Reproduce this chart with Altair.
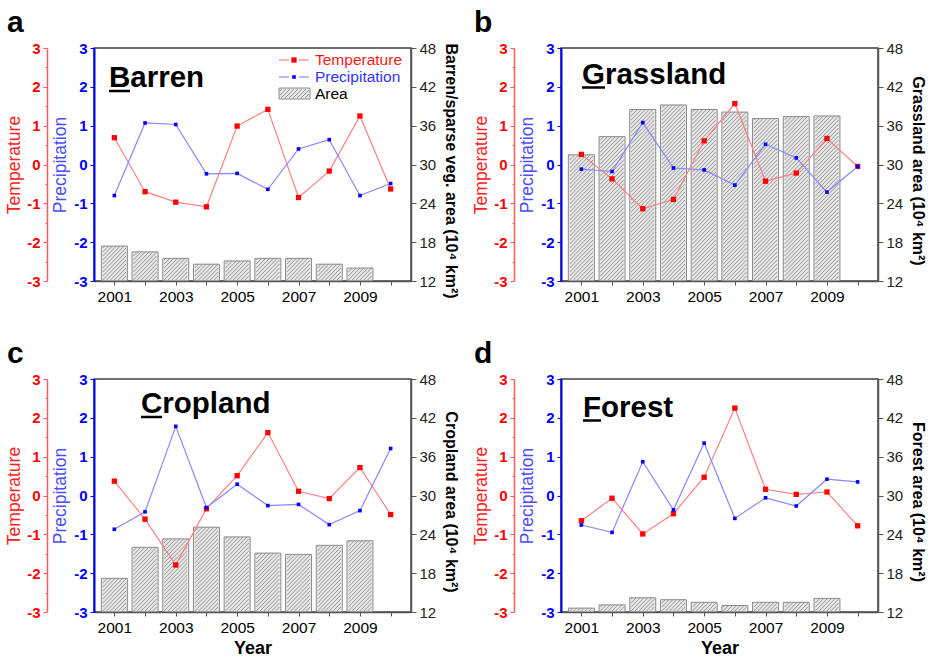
import altair as alt
import pandas as pd

# ---------------- data ----------------
years = [2001, 2002, 2003, 2004, 2005, 2006, 2007, 2008, 2009, 2010]
area_years = [2001, 2002, 2003, 2004, 2005, 2006, 2007, 2008, 2009]

temp_barren = [0.69, -0.70, -0.97, -1.09, 0.99, 1.42, -0.85, -0.17, 1.25, -0.63]
prec_barren = [-0.80, 1.07, 1.03, -0.24, -0.23, -0.64, 0.40, 0.64, -0.80, -0.49]
area_barren = [17.4, 16.5, 15.5, 14.6, 15.1, 15.5, 15.5, 14.6, 14.0]

temp_grass = [0.26, -0.37, -1.14, -0.90, 0.61, 1.57, -0.43, -0.22, 0.67, -0.05]
prec_grass = [-0.12, -0.18, 1.08, -0.09, -0.14, -0.53, 0.52, 0.17, -0.71, -0.05]
area_grass = [31.5, 34.3, 38.5, 39.2, 38.5, 38.1, 37.1, 37.4, 37.5]

temp_crop = [0.37, -0.61, -1.79, -0.34, 0.51, 1.62, 0.11, -0.08, 0.72, -0.49]
prec_crop = [-0.87, -0.42, 1.78, -0.31, 0.29, -0.26, -0.23, -0.75, -0.39, 1.21]
area_crop = [17.2, 22.0, 23.3, 25.1, 23.6, 21.1, 20.9, 22.3, 23.0]

temp_forest = [-0.65, -0.07, -0.99, -0.47, 0.47, 2.25, 0.16, 0.03, 0.09, -0.78]
prec_forest = [-0.76, -0.95, 0.87, -0.37, 1.35, -0.59, -0.06, -0.27, 0.42, 0.35]
area_forest = [12.6, 13.1, 14.2, 13.9, 13.5, 13.0, 13.5, 13.5, 14.1]

area_ticks = [12, 18, 24, 30, 36, 42, 48]
anom_ticks = [-3, -2, -1, 0, 1, 2, 3]
anom_minor = [-3, -2.5, -2, -1.5, -1, -0.5, 0, 0.5, 1, 1.5, 2, 2.5, 3]

# ---------------- styling ----------------
FONT = "Liberation Sans"
W, H = 317, 233
X0, X1 = 2000.5, 2010.5
A0, A1 = 12, 48
BAR_PX = 26
HATCH_STEP = 4.0
RED, RED_LINE = "#ff0000", "#ff8080"
BLUE, BLUE_LINE = "#0000ff", "#8888ff"
BAR_FILL, BAR_STROKE, HATCH = "#e6e6e6", "#8a8a8a", "#8f8f8f"

one = pd.DataFrame({"k": [0]})


def hatch_segments(yrs, vals):
    """Diagonal '/' hatch segments inside each bar, in data units."""
    px_year = W / (X1 - X0)
    px_area = H / (A1 - A0)
    rows = []
    for yr, v in zip(yrs, vals):
        w = BAR_PX - 2
        h = (v - A0) * px_area - 1
        left = yr - (BAR_PX / 2 - 1) / px_year
        c = -w
        while c < h:
            xa = max(0.0, -c)
            xb = min(w, h - c)
            if xb > xa + 0.3:
                rows.append({"x1": left + xa / px_year, "y1": A0 + (xa + c + 1) / px_area,
                             "x2": left + xb / px_year, "y2": A0 + (xb + c + 1) / px_area})
            c += HATCH_STEP
    return pd.DataFrame(rows)


def txt(text, x, y, **kw):
    return alt.Chart(one).mark_text(text=text, font=FONT, **kw).encode(
        x=alt.value(x), y=alt.value(y))


XSCALE = alt.Scale(domain=[X0, X1], nice=False, zero=False)


def xaxis(show_title):
    kw = dict(values=years,
              labelExpr="datum.value % 2 == 1 ? '' + datum.value : ''",
              labelFont=FONT, labelFontSize=15.5, labelColor="black",
              labelPadding=4, tickSize=4, tickColor="#555", domainColor="#555",
              domainWidth=1.5, labelOverlap=False, labelFlush=False, grid=False,
              zindex=1)
    if show_title:
        kw.update(title="Year", titleFont=FONT, titleFontSize=18,
                  titleFontWeight="bold", titleColor="black", titleY=27,
                  titleBaseline="top")
    else:
        kw.update(title=None)
    return alt.Axis(**kw)


def legend_hatch(x0, y0, w, h):
    """Hatch lines for the legend's area swatch (pixel decoration)."""
    out = []
    c = -w
    while c < h:
        xa = max(0, -c)
        xb = min(w, h - c)
        if xb > xa:
            out.append(alt.Chart(one).mark_rule(color=HATCH, strokeWidth=0.9).encode(
                x=alt.value(x0 + xa), x2=alt.value(x0 + xb),
                y=alt.value(y0 + h - (xa + c)), y2=alt.value(y0 + h - (xb + c))))
        c += HATCH_STEP
    return out


def panel(letter, name, temp, prec, area, area_title, name_x, name_y, first_w,
          show_year, legend=False):
    df_line = pd.DataFrame({"year": years, "temp": temp, "prec": prec})
    df_bar = pd.DataFrame({"year": area_years, "area": area})
    df_hatch = hatch_segments(area_years, area)
    xax = xaxis(show_year)
    x = alt.X("year:Q", scale=XSCALE, axis=xax)

    right_axis = alt.Axis(orient="right", values=area_ticks, title=area_title,
                          titleAngle=90, titleX=39, titleY=H / 2 + 6,
                          titleBaseline="middle", titleAlign="center",
                          titleFontSize=16, titleFontWeight="bold", titleColor="black",
                          labelFontSize=15, labelColor="#222", labelPadding=3,
                          domainColor="#555", tickColor="#555", tickSize=5,
                          domainWidth=1.5, grid=False, labelOverlap=False, zindex=1)
    ascale = alt.Scale(domain=[A0, A1], nice=False, zero=False)
    bars = alt.Chart(df_bar).transform_calculate(base=str(A0)).mark_bar(
        size=BAR_PX, fill=BAR_FILL, stroke=BAR_STROKE, strokeWidth=1).encode(
        x=x, y=alt.Y("area:Q", scale=ascale, axis=right_axis), y2="base:Q")
    hatch = alt.Chart(df_hatch).mark_rule(color=HATCH, strokeWidth=0.9).encode(
        x=alt.X("x1:Q", scale=XSCALE, axis=xax), x2="x2:Q",
        y=alt.Y("y1:Q", scale=ascale, axis=right_axis), y2="y2:Q")

    temp_axis = alt.Axis(orient="left", offset=47, values=anom_minor,
                         labelExpr="datum.value % 1 == 0 ? '' + datum.value : ''",
                         tickSize={"condition": {"test": "datum.value % 1 != 0", "value": 2},
                                   "value": 4},
                         labelColor=RED, labelFontWeight="bold", labelFontSize=15,
                         labelPadding=3, domainColor="#ff5a5a", domainWidth=1.5,
                         tickColor="#ff5a5a", title="Temperature", titleColor="#ff2020",
                         titleFontSize=17.5, titleFontWeight="normal", titleX=-33,
                         titleY=H / 2, titleAngle=-90, titleBaseline="middle",
                         titleAlign="center", grid=False, labelOverlap=False, zindex=1)
    tscale = alt.Scale(domain=[-3, 3], nice=False, zero=False)
    tline = alt.Chart(df_line).mark_line(color=RED_LINE, strokeWidth=1.2).encode(
        x=x, y=alt.Y("temp:Q", scale=tscale, axis=temp_axis))
    tpts = alt.Chart(df_line).mark_square(color=RED, size=28, opacity=1).encode(
        x=x, y=alt.Y("temp:Q", scale=tscale, axis=temp_axis))

    prec_axis = alt.Axis(orient="left", values=anom_ticks,
                         labelExpr="'' + datum.value",
                         labelColor=BLUE, labelFontWeight="bold", labelFontSize=15,
                         labelPadding=3, domainColor=BLUE, domainWidth=2,
                         tickColor=BLUE, tickSize=4, title="Precipitation",
                         titleColor="#4d4dff", titleFontSize=17.5,
                         titleFontWeight="normal", titleX=-34, titleY=H / 2,
                         titleAngle=-90, titleBaseline="middle", titleAlign="center",
                         grid=False, labelOverlap=False, zindex=1)
    pscale = alt.Scale(domain=[-3, 3], nice=False, zero=False)
    pline = alt.Chart(df_line).mark_line(color=BLUE_LINE, strokeWidth=1.2).encode(
        x=x, y=alt.Y("prec:Q", scale=pscale, axis=prec_axis))
    ppts = alt.Chart(df_line).mark_square(color=BLUE, size=13, opacity=1).encode(
        x=x, y=alt.Y("prec:Q", scale=pscale, axis=prec_axis))

    layers = [alt.layer(bars, hatch), alt.layer(tline, tpts), alt.layer(pline, ppts)]

    # panel letter, land-cover name with underlined initial
    layers.append(txt(letter, -87, -16.5, fontSize=30, fontWeight="bold",
                      align="left", baseline="alphabetic", color="black"))
    layers.append(txt(name, name_x, name_y, fontSize=29.5, fontWeight="bold",
                      align="left", baseline="alphabetic", color="black"))
    layers.append(alt.Chart(one).mark_rule(color="black", strokeWidth=2.5).encode(
        x=alt.value(name_x), x2=alt.value(name_x + first_w), y=alt.value(name_y + 4)))

    if legend:
        for yy, lc, pc, ps, label, tc in [(12, RED_LINE, RED, 28, "Temperature", "#ff1a1a"),
                                          (29, BLUE_LINE, BLUE, 13, "Precipitation", "#3333ff")]:
            for xa, xb in [(185, 195), (205, 215)]:
                layers.append(alt.Chart(one).mark_rule(color=lc, strokeWidth=1.2).encode(
                    x=alt.value(xa), x2=alt.value(xb), y=alt.value(yy)))
            layers.append(alt.Chart(one).mark_square(color=pc, size=ps, opacity=1).encode(
                x=alt.value(200), y=alt.value(yy)))
            layers.append(txt(label, 221, yy, fontSize=15.5, align="left",
                              baseline="middle", color=tc))
        layers.append(alt.Chart(one).mark_rect(fill=BAR_FILL, stroke=BAR_STROKE,
                                               strokeWidth=1).encode(
            x=alt.value(185), x2=alt.value(216), y=alt.value(40), y2=alt.value(51)))
        layers.extend(legend_hatch(186, 41, 29, 9))
        layers.append(txt("Area", 221, 46, fontSize=15.5, align="left",
                          baseline="middle", color="black"))

    return alt.layer(*layers).resolve_scale(y="independent").properties(width=W, height=H)


pa = panel("a", "Barren", temp_barren, prec_barren, area_barren,
           "Barren/sparse veg. area (10\u2074 km\u00b2)", 15, 39, 21, False, legend=True)
pb = panel("b", "Grassland", temp_grass, prec_grass, area_grass,
           "Grassland area (10\u2074 km\u00b2)", 21, 35.5, 23, False)
pc = panel("c", "Cropland", temp_crop, prec_crop, area_crop,
           "Cropland area (10\u2074 km\u00b2)", 47, 34, 21, True)
pdn = panel("d", "Forest", temp_forest, prec_forest, area_forest,
            "Forest area (10\u2074 km\u00b2)", 22, 37.5, 18, True)

chart = alt.concat(pa, pb, pc, pdn, columns=2,
                   spacing={"row": 98, "column": 150}, bounds="flush").properties(
    padding={"left": 4, "top": 6, "right": 2, "bottom": 0}
).configure_view(stroke="#404040", strokeWidth=1.5).configure_axis(
    grid=False, labelFont=FONT, titleFont=FONT)

chart.save("out.html", embed_options={"renderer": "svg", "actions": False})
